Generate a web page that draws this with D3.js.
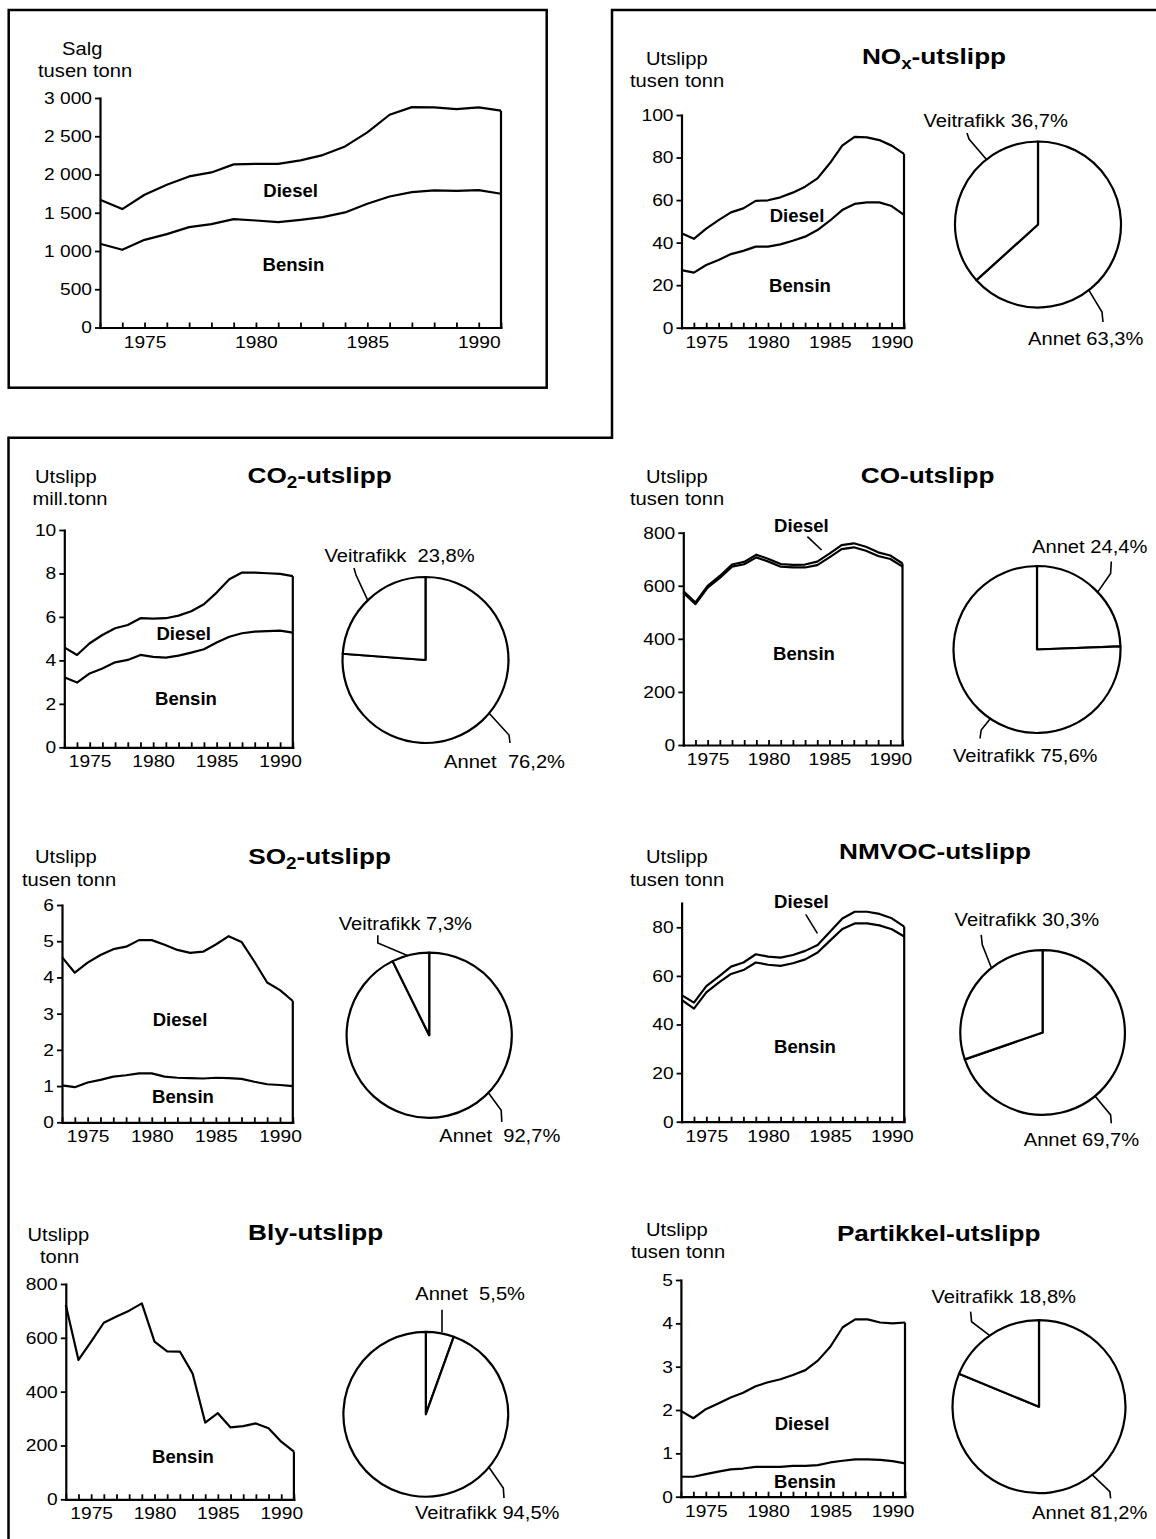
<!DOCTYPE html>
<html>
<head>
<meta charset="utf-8">
<script src="https://cdn.jsdelivr.net/npm/d3@7"></script>
<style>
  html, body { margin: 0; padding: 0; background: #fff; }
  svg { display: block; }
</style>
</head>
<body>
<script>
// ---------- data ----------
const years = [1973, 1974, 1975, 1976, 1977, 1978, 1979, 1980, 1981, 1982,
               1983, 1984, 1985, 1986, 1987, 1988, 1989, 1990, 1991];

// Salg, tusen tonn
const salgBensin = [1094, 1016, 1146, 1220, 1312, 1351, 1417, 1399, 1377, 1408, 1443, 1504, 1617, 1713, 1770, 1792, 1787, 1796, 1748];
const salgDiesel = [576, 532, 589, 646, 663, 676, 715, 741, 763, 776, 811, 863, 933, 1068, 1111, 1085, 1068, 1081, 1086];
const salgTicks = [0, 500, 1000, 1500, 2000, 2500, 3000];

// NOx, tusen tonn
const noxBensin = [27.1, 25.9, 29.5, 31.8, 34.6, 36.1, 38.1, 38.1, 39.2, 40.9, 42.8, 45.9, 50.3, 55.3, 58.2, 58.9, 58.9, 57.2, 53.0];
const noxDiesel = [17.3, 15.9, 17.1, 18.8, 19.6, 20.0, 21.5, 21.8, 22.1, 22.6, 23.5, 24.3, 27.0, 30.3, 31.5, 30.6, 29.3, 28.4, 28.7];
const noxTicks = [0, 20, 40, 60, 80, 100];
const noxShare = [63.3, 36.7];

// CO2, mill. tonn
const co2Bensin = [3.22, 2.98, 3.40, 3.63, 3.91, 4.02, 4.25, 4.16, 4.13, 4.22, 4.36, 4.51, 4.82, 5.09, 5.25, 5.32, 5.35, 5.37, 5.28];
const co2Diesel = [1.38, 1.27, 1.39, 1.54, 1.57, 1.61, 1.69, 1.76, 1.81, 1.84, 1.90, 2.07, 2.30, 2.64, 2.79, 2.72, 2.66, 2.61, 2.60];
const co2Ticks = [0, 2, 4, 6, 8, 10];
const co2Share = [76.2, 23.8];

// CO, tusen tonn
const coBensin = [574, 531, 593, 630, 672, 681, 707, 691, 672, 669, 669, 678, 707, 738, 745, 732, 712, 701, 672];
const coDiesel = [6, 6, 7, 7, 8, 9, 10, 10, 10, 10, 11, 13, 14, 15, 15, 15, 14, 13, 12];
const coTicks = [0, 200, 400, 600, 800];
const coShare = [24.4, 75.6];

// SO2, tusen tonn
const so2Bensin = [1.02, 0.97, 1.10, 1.17, 1.26, 1.30, 1.35, 1.35, 1.26, 1.23, 1.22, 1.21, 1.23, 1.22, 1.20, 1.12, 1.05, 1.03, 1.00];
const so2Diesel = [3.54, 3.16, 3.31, 3.45, 3.52, 3.55, 3.68, 3.68, 3.64, 3.53, 3.46, 3.50, 3.68, 3.92, 3.78, 3.32, 2.81, 2.62, 2.35];
const so2Ticks = [0, 1, 2, 3, 4, 5, 6];
const so2Share = [92.7, 7.3];

// NMVOC, tusen tonn
const nmvocBensin = [50.1, 46.5, 53.2, 57.2, 60.8, 62.4, 65.5, 64.6, 64.1, 65.2, 66.8, 69.6, 74.5, 79.3, 81.6, 81.6, 80.8, 79.2, 76.2];
const nmvocDiesel = [2.0, 2.5, 2.6, 2.5, 3.0, 3.1, 3.4, 3.3, 3.4, 3.4, 3.5, 3.1, 3.7, 4.3, 4.8, 4.8, 4.7, 4.5, 4.1];
const nmvocTicks = [0, 20, 40, 60, 80];
const nmvocShare = [69.7, 30.3];

// Bly, tonn
const blyBensin = [722, 518, 586, 656, 679, 701, 728, 586, 550, 549, 468, 285, 320, 267, 272, 282, 264, 214, 177];
const blyTicks = [0, 200, 400, 600, 800];
const blyShare = [5.5, 94.5];

// Partikler, tusen tonn
const partBensin = [0.46, 0.46, 0.52, 0.58, 0.63, 0.65, 0.69, 0.69, 0.69, 0.71, 0.71, 0.73, 0.79, 0.83, 0.86, 0.86, 0.85, 0.82, 0.77];
const partDiesel = [1.52, 1.35, 1.50, 1.57, 1.66, 1.75, 1.86, 1.95, 2.02, 2.10, 2.21, 2.41, 2.67, 3.08, 3.23, 3.23, 3.17, 3.18, 3.25];
const partTicks = [0, 1, 2, 3, 4, 5];
const partShare = [81.2, 18.8];

const pieNames = ['Annet', 'Veitrafikk'];

// ---------- styles ----------
const FONT = '"Liberation Sans", Arial, Helvetica, sans-serif';
const ST = {
  tick:   { size: 17,   sx: 1.13 },
  unit:   { size: 18.5, sx: 1.09 },
  series: { size: 18,   sx: 1.03, weight: 'bold' },
  title:  { size: 22,   sx: 1.19, weight: 'bold' },
  pie:    { size: 18.5, sx: 1.09 }
};
const LW = 2.2;

const no = d3.formatLocale({ decimal: ',', thousands: ' ', grouping: [3], currency: ['', ''] });
const fmtInt = no.format(',d');
const fmtPct = no.format('.1f');

const W = 1156, H = 1539;
const svg = d3.select('body').append('svg').attr('width', W).attr('height', H);
svg.append('rect').attr('width', W).attr('height', H).attr('fill', '#fff');

// text with a slight horizontal stretch, anchored at (x, y)
function text(parent, x, y, parts, st, anchor) {
  const t = parent.append('text')
    .attr('transform', `translate(${x},${y}) scale(${st.sx},1)`)
    .attr('text-anchor', anchor || 'start')
    .attr('font-family', FONT)
    .attr('font-size', st.size)
    .attr('font-weight', st.weight || 'normal')
    .attr('fill', '#000')
    .style('white-space', 'pre');
  if (typeof parts === 'string') { t.text(parts); return t; }
  let shifted = false;
  parts.forEach(p => {
    const ts = t.append('tspan').text(p.s);
    if (p.sub) {
      ts.attr('font-size', st.size * 0.72).attr('dy', 5);
      shifted = true;
    } else if (shifted) {
      ts.attr('dy', -5);
      shifted = false;
    }
  });
  return t;
}

// ---------- panel layout ----------
const panels = [
  {
    series: [{ name: 'Bensin', values: salgBensin }, { name: 'Diesel', values: salgDiesel }],
    yMax: 3000, yTicks: salgTicks,
    plot: { x0: 100, x1: 501, y0: 327.5, y1: 98 },
    units: [['Salg', 62, 55], ['tusen tonn', 38, 76.5]],
    labels: [{ t: 'Diesel', x: 290.6, y: 196.5 }, { t: 'Bensin', x: 293.4, y: 270.5 }]
  },
  {
    series: [{ name: 'Bensin', values: noxBensin }, { name: 'Diesel', values: noxDiesel }],
    yMax: 100, yTicks: noxTicks,
    plot: { x0: 681.5, x1: 904, y0: 327.7, y1: 115 },
    title: { parts: [{ s: 'NO' }, { s: 'x', sub: true }, { s: '-utslipp' }], x: 934, y: 64 },
    units: [['Utslipp', 646, 64.5], ['tusen tonn', 630, 87]],
    labels: [{ t: 'Diesel', x: 797, y: 221.5 }, { t: 'Bensin', x: 800, y: 291.5 }],
    pie: {
      share: noxShare, cx: 1038, cy: 224.5, r: 83,
      text: [{ x: 1028, y: 344.5, sep: ' ', lead: [[53, 68.5], [64, 87.5], [65, 97.5]] },
             { x: 923.4, y: 126.5, sep: ' ', lead: [[-55, -69.5], [-69, -85.5], [-71, -91.5]] }]
    }
  },
  {
    series: [{ name: 'Bensin', values: co2Bensin }, { name: 'Diesel', values: co2Diesel }],
    yMax: 10, yTicks: co2Ticks,
    plot: { x0: 64.3, x1: 292.8, y0: 747.3, y1: 530 },
    title: { parts: [{ s: 'CO' }, { s: '2', sub: true }, { s: '-utslipp' }], x: 319.6, y: 483 },
    units: [['Utslipp', 35, 483], ['mill.tonn', 32.5, 505]],
    labels: [{ t: 'Diesel', x: 183.7, y: 639.5 }, { t: 'Bensin', x: 186, y: 704.5 }],
    pie: {
      share: co2Share, cx: 425.5, cy: 660, r: 83,
      text: [{ x: 444, y: 768, sep: '  ', lead: [[68, 57], [83.5, 75], [84.5, 83]] },
             { x: 324.5, y: 561.5, sep: '  ', lead: [[-61, -63], [-69.5, -85], [-71.5, -92]] }]
    }
  },
  {
    series: [{ name: 'Bensin', values: coBensin }, { name: 'Diesel', values: coDiesel }],
    yMax: 800, yTicks: coTicks,
    plot: { x0: 683.3, x1: 902.5, y0: 745, y1: 532.7 },
    title: { parts: [{ s: 'CO-utslipp' }], x: 927.7, y: 483 },
    units: [['Utslipp', 646, 483], ['tusen tonn', 630, 505]],
    labels: [{ t: 'Diesel', x: 801.4, y: 531.5, lead: [[807.4, 536.7], [821.6, 550]] },
             { t: 'Bensin', x: 804, y: 660 }],
    pie: {
      share: coShare, cx: 1037, cy: 649.5, r: 83.5,
      text: [{ x: 1032, y: 552.5, sep: ' ', lead: [[63, -59.5], [73.6, -76], [74.3, -88]] },
             { x: 953, y: 761.5, sep: ' ', lead: [[-48.7, 72], [-55.8, 80.5], [-57, 89]] }]
    }
  },
  {
    series: [{ name: 'Bensin', values: so2Bensin }, { name: 'Diesel', values: so2Diesel }],
    yMax: 6, yTicks: so2Ticks,
    plot: { x0: 62, x1: 292.8, y0: 1122.3, y1: 905 },
    title: { parts: [{ s: 'SO' }, { s: '2', sub: true }, { s: '-utslipp' }], x: 319.6, y: 864 },
    units: [['Utslipp', 35, 863], ['tusen tonn', 22, 886]],
    labels: [{ t: 'Diesel', x: 180, y: 1026 }, { t: 'Bensin', x: 183, y: 1103 }],
    pie: {
      share: so2Share, cx: 429.2, cy: 1035.2, r: 82.6,
      text: [{ x: 439.3, y: 1141.5, sep: '  ', lead: [[61.6, 60], [72, 75], [72.6, 86.7]] },
             { x: 338.7, y: 930, sep: ' ', lead: [[-23, -84], [-51.4, -92.3], [-51.4, -100]] }]
    }
  },
  {
    series: [{ name: 'Bensin', values: nmvocBensin }, { name: 'Diesel', values: nmvocDiesel }],
    yMax: 90, yTicks: nmvocTicks,
    plot: { x0: 681.6, x1: 904.2, y0: 1121.7, y1: 903 },
    title: { parts: [{ s: 'NMVOC-utslipp' }], x: 935, y: 859.3 },
    units: [['Utslipp', 646, 863], ['tusen tonn', 630, 886]],
    labels: [{ t: 'Diesel', x: 801.4, y: 907.5, lead: [[805.7, 914.3], [817.4, 933.3]] },
             { t: 'Bensin', x: 805, y: 1053 }],
    pie: {
      share: nmvocShare, cx: 1042.6, cy: 1032.5, r: 82.3,
      text: [{ x: 1023.7, y: 1146, sep: ' ', lead: [[55.6, 67.4], [68, 82.4], [68.7, 90.7]] },
             { x: 954.6, y: 926, sep: ' ', lead: [[-53.6, -67.6], [-60.3, -87.6], [-61.4, -97.6]] }]
    }
  },
  {
    series: [{ name: 'Bensin', values: blyBensin }],
    yMax: 800, yTicks: blyTicks,
    plot: { x0: 65.8, x1: 293.9, y0: 1499.3, y1: 1284 },
    title: { parts: [{ s: 'Bly-utslipp' }], x: 315.7, y: 1240 },
    units: [['Utslipp', 27.5, 1241], ['tonn', 40, 1263]],
    labels: [{ t: 'Bensin', x: 183, y: 1463 }],
    pie: {
      share: blyShare, cx: 425.8, cy: 1414.3, r: 82.4,
      text: [{ x: 415.2, y: 1300, sep: '  ', lead: [[16.2, -82], [16.2, -104.6]] },
             { x: 415, y: 1519, sep: ' ', lead: [[66, 55.4], [77.5, 73.7], [78.2, 83.7]] }]
    }
  },
  {
    series: [{ name: 'Bensin', values: partBensin }, { name: 'Diesel', values: partDiesel }],
    yMax: 5, yTicks: partTicks,
    plot: { x0: 680.9, x1: 905, y0: 1496.7, y1: 1280 },
    title: { parts: [{ s: 'Partikkel-utslipp' }], x: 938.7, y: 1240.7 },
    units: [['Utslipp', 646, 1236], ['tusen tonn', 631, 1258]],
    labels: [{ t: 'Diesel', x: 802, y: 1430 }, { t: 'Bensin', x: 805, y: 1488 }],
    pie: {
      share: partShare, cx: 1039, cy: 1406.7, r: 86.5,
      text: [{ x: 1032, y: 1519, sep: ' ', lead: [[57.4, 73.3], [70.9, 85], [71.6, 91.6]] },
             { x: 931.5, y: 1302.5, sep: ' ', lead: [[-50.7, -73.4], [-67.4, -85], [-68.4, -95]] }]
    }
  }
];

// ---------- frames ----------
svg.append('rect')
  .attr('x', 8.7).attr('y', 10).attr('width', 538).attr('height', 377.7)
  .attr('fill', 'none').attr('stroke', '#000').attr('stroke-width', 2.5);
svg.append('path')
  .attr('d', 'M1160,10H612V437.7H8.5V1545')
  .attr('fill', 'none').attr('stroke', '#000').attr('stroke-width', 2.5);

// ---------- drawing ----------
function drawPanel(p) {
  const g = svg.append('g');
  const x = d3.scaleLinear().domain([years[0], years[years.length - 1]]).range([p.plot.x0, p.plot.x1]);
  const y = d3.scaleLinear().domain([0, p.yMax]).range([p.plot.y0, p.plot.y1]);

  // stacked series: Bensin at the bottom, Diesel on top
  const rows = years.map((yr, i) => {
    const r = { year: yr };
    p.series.forEach(s => { r[s.name] = s.values[i]; });
    return r;
  });
  const layers = d3.stack().keys(p.series.map(s => s.name))(rows);
  const line = d3.line()
    .x(d => x(d.data.year))
    .y(d => y(d[1]))
    .curve(d3.curveLinear);

  g.selectAll('path.layer').data(layers).join('path')
    .attr('class', 'layer')
    .attr('d', line)
    .attr('fill', 'none').attr('stroke', '#000')
    .attr('stroke-width', LW).attr('stroke-linejoin', 'round');

  // closing edge at the last year
  const top = layers[layers.length - 1];
  const lastPt = top[top.length - 1];
  g.append('line')
    .attr('x1', x(lastPt.data.year)).attr('x2', x(lastPt.data.year))
    .attr('y1', y(0)).attr('y2', y(lastPt[1]))
    .attr('stroke', '#000').attr('stroke-width', LW);

  // x axis: a tick every year, labels every fifth year
  const xa = g.append('g')
    .attr('transform', `translate(0,${y(0)})`)
    .call(d3.axisBottom(x).tickValues(years)
      .tickFormat(d => d % 5 === 0 ? String(d) : '')
      .tickSizeInner(-5).tickSizeOuter(0).tickPadding(8));
  xa.attr('font-family', FONT).attr('font-size', ST.tick.size);
  xa.select('.domain').attr('stroke-width', LW).attr('stroke-linecap', 'square');
  xa.selectAll('.tick line').attr('stroke-width', 1.8);
  xa.selectAll('.tick text').attr('fill', '#000').attr('transform', `scale(${ST.tick.sx},1)`);

  // y axis
  const ya = g.append('g')
    .attr('transform', `translate(${x(years[0])},0)`)
    .call(d3.axisLeft(y).tickValues(p.yTicks)
      .tickFormat(d => fmtInt(d))
      .tickSizeInner(5).tickSizeOuter(0).tickPadding(3));
  ya.attr('font-family', FONT).attr('font-size', ST.tick.size);
  ya.select('.domain').attr('stroke-width', LW).attr('stroke-linecap', 'square');
  ya.selectAll('.tick line').attr('stroke-width', 1.8);
  ya.selectAll('.tick text').each(function () {
    const t = d3.select(this);
    const tx = +t.attr('x');
    t.attr('x', 0).attr('fill', '#000').attr('transform', `translate(${tx},0) scale(${ST.tick.sx},1)`);
  });

  // unit text, title, series names
  p.units.forEach(([s, ux, uy]) => text(g, ux, uy, s, ST.unit));
  if (p.title) text(g, p.title.x, p.title.y, p.title.parts, ST.title, 'middle');
  p.labels.forEach(l => {
    text(g, l.x, l.y, l.t, ST.series, 'middle');
    if (l.lead) {
      g.append('path').attr('d', d3.line()(l.lead))
        .attr('fill', 'none').attr('stroke', '#000').attr('stroke-width', 1.6);
    }
  });

  // pie: Annet clockwise from twelve o'clock, then Veitrafikk
  if (p.pie) {
    const pc = p.pie;
    const pg = g.append('g').attr('transform', `translate(${pc.cx},${pc.cy})`);
    const slices = d3.pie().sort(null).value(d => d.v)(pieNames.map((n, i) => ({ n, v: pc.share[i] })));
    const arc = d3.arc().innerRadius(0).outerRadius(pc.r);
    pg.selectAll('path.slice').data(slices).join('path')
      .attr('class', 'slice')
      .attr('d', arc)
      .attr('fill', '#fff').attr('stroke', '#000')
      .attr('stroke-width', LW).attr('stroke-linejoin', 'round');

    slices.forEach((sl, i) => {
      const lt = pc.text[i];
      text(g, lt.x, lt.y, `${sl.data.n}${lt.sep}${fmtPct(sl.data.v)}%`, ST.pie);
      // leader: starts on the rim, bends towards the label
      const pts = lt.lead.map(q => q.slice());
      if (pts.length > 2) {
        const k = pc.r / Math.hypot(pts[0][0], pts[0][1]);
        pts[0] = [pts[0][0] * k, pts[0][1] * k];
      }
      pg.append('path').attr('d', d3.line()(pts))
        .attr('fill', 'none').attr('stroke', '#000').attr('stroke-width', 1.6);
    });
  }
}

panels.forEach(drawPanel);
</script>
</body>
</html>
